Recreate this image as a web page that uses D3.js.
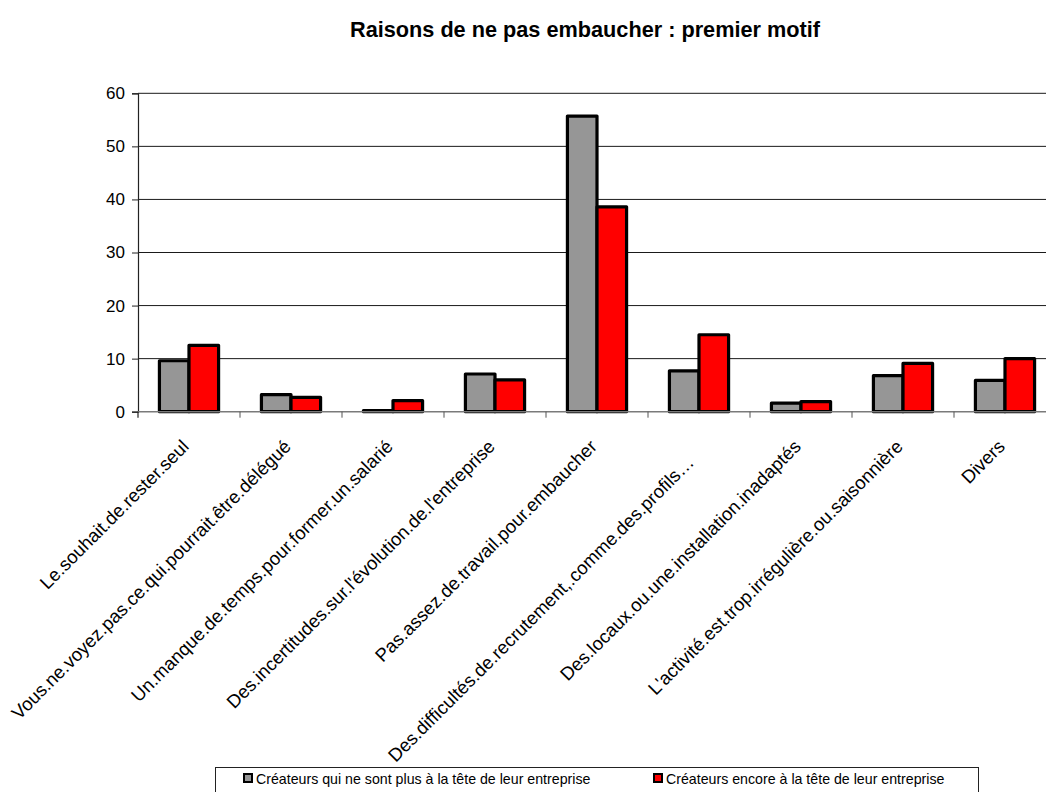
<!DOCTYPE html>
<html>
<head>
<meta charset="utf-8">
<script src="https://cdn.jsdelivr.net/npm/d3@7"></script>
<style>
  html, body { margin: 0; padding: 0; background: #fff; }
  svg { display: block; font-family: "Liberation Sans", Arial, sans-serif; }
</style>
</head>
<body>
<svg id="chart" width="1046" height="792"></svg>
<script>
// Reasons for not hiring: first motive, two groups of business founders
const categories = [
  "Le.souhait.de.rester.seul",
  "Vous.ne.voyez.pas.ce.qui.pourrait.être.délégué",
  "Un.manque.de.temps.pour.former.un.salarié",
  "Des.incertitudes.sur.l'évolution.de.l'entreprise",
  "Pas.assez.de.travail.pour.embaucher",
  "Des.difficultés.de.recrutement,.comme.des.profils…",
  "Des.locaux.ou.une.installation.inadaptés",
  "L'activité.est.trop.irrégulière.ou.saisonnière",
  "Divers"
];
const seriesNames = [
  "Créateurs qui ne sont plus à la tête de leur entreprise",
  "Créateurs encore à la tête de leur entreprise"
];
const valuesPlus   = [9.6, 3.2, 0.2, 7.1, 55.7, 7.7, 1.6, 6.8, 5.9];
const valuesEncore = [12.5, 2.7, 2.1, 6.0, 38.6, 14.5, 1.9, 9.1, 10.0];
const yTicks = [0, 10, 20, 30, 40, 50, 60];
const seriesColors = ["#969696", "#ff0000"];
const chartTitle = "Raisons de ne pas embaucher : premier motif";

const svg = d3.select("#chart");

// plot frame
const plotLeft = 138, plotRight = 1056, plotTop = 93.3, plotBottom = 411.7;

const x = d3.scaleBand().domain(categories).range([plotLeft, plotRight]).padding(0);
const bw = x.bandwidth();
const xs = d3.scaleBand().domain([0, 1]).range([bw * 0.21, bw * 0.79]).padding(0);
const y = d3.scaleLinear().domain([0, 60]).range([plotBottom, plotTop]);

// title
svg.append("text")
  .attr("x", 585).attr("y", 37)
  .attr("text-anchor", "middle")
  .attr("font-weight", "bold")
  .attr("font-size", 21.7)
  .text(chartTitle);

// horizontal gridlines
svg.append("g").selectAll("line")
  .data(yTicks.filter(d => d > 0))
  .join("line")
  .attr("x1", plotLeft).attr("x2", plotRight)
  .attr("y1", d => y(d)).attr("y2", d => y(d))
  .attr("stroke", "#1a1a1a").attr("stroke-width", 1);

// y axis
const yAxis = svg.append("g")
  .attr("transform", `translate(${plotLeft},0)`)
  .call(d3.axisLeft(y).tickValues(yTicks).tickSize(6).tickPadding(7));
yAxis.select(".domain").attr("stroke", "#222").attr("stroke-width", 1.2);
yAxis.selectAll(".tick line").attr("stroke", "#222");
yAxis.selectAll(".tick text")
  .attr("font-family", "Liberation Sans, Arial, sans-serif")
  .attr("font-size", 17).attr("fill", "#000");

// bars
const rows = categories.map((c, i) => ({ cat: c, vals: [valuesPlus[i], valuesEncore[i]] }));
svg.append("g").selectAll("g")
  .data(rows)
  .join("g")
  .attr("transform", d => `translate(${x(d.cat)},0)`)
  .selectAll("rect")
  .data(d => d.vals.map((v, s) => ({ v, s })))
  .join("rect")
  .attr("x", d => xs(d.s))
  .attr("width", xs.bandwidth())
  .attr("y", d => y(d.v))
  .attr("height", d => y(0) - y(d.v))
  .attr("fill", d => seriesColors[d.s])
  .attr("stroke", "#000")
  .attr("stroke-width", 3.2)
  .attr("stroke-linejoin", "round");

// x axis: baseline with tick marks between categories
const xAxis = svg.append("g").attr("transform", `translate(0,${plotBottom})`);
xAxis.append("line")
  .attr("x1", plotLeft).attr("x2", plotRight)
  .attr("stroke", "#7a7a7a").attr("stroke-width", 1.5);
xAxis.selectAll("line.tk")
  .data(categories)
  .join("line")
  .attr("class", "tk")
  .attr("x1", d => x(d) + bw)
  .attr("x2", d => x(d) + bw)
  .attr("y1", 0).attr("y2", 6)
  .attr("stroke", "#555");
svg.append("line")
  .attr("x1", plotLeft).attr("x2", plotLeft)
  .attr("y1", plotBottom).attr("y2", plotBottom + 6)
  .attr("stroke", "#222").attr("stroke-width", 1.2);

// rotated category labels
const labelShift = { 5: [-5, 16] };
svg.append("g").selectAll("text")
  .data(categories)
  .join("text")
  .attr("transform", (d, i) => {
    const sh = labelShift[i] || [0, 0];
    const cx = x(d) + bw / 2 + 1 + sh[0];
    const cy = plotBottom + 36 + sh[1];
    return `translate(${cx},${cy}) rotate(-45)`;
  })
  .attr("text-anchor", "end")
  .attr("font-size", 18.5)
  .text(d => d);

// legend
const lg = svg.append("g");
lg.append("rect")
  .attr("x", 215.5).attr("y", 767.5)
  .attr("width", 763).attr("height", 40)
  .attr("fill", "#fff").attr("stroke", "#222").attr("stroke-width", 1);
const legendX = [243, 653];
seriesNames.forEach((name, s) => {
  lg.append("rect")
    .attr("x", legendX[s] + 1).attr("y", 774)
    .attr("width", 8).attr("height", 8)
    .attr("fill", seriesColors[s])
    .attr("stroke", "#000").attr("stroke-width", 2);
  lg.append("text")
    .attr("x", legendX[s] + 13).attr("y", 783.5)
    .attr("font-size", 14.2)
    .text(name);
});
</script>
</body>
</html>
